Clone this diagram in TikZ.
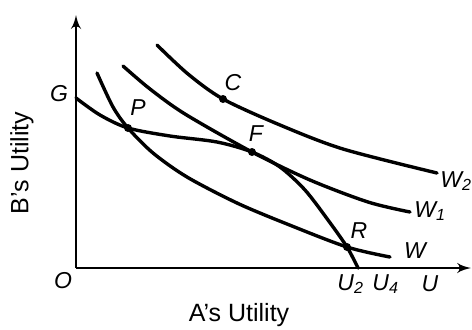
\documentclass[tikz,border=0pt]{standalone}
\usepackage{fontspec}
\setmainfont{Liberation Sans}
\usetikzlibrary{arrows, positioning}

\begin{document}
\begin{tikzpicture}[x=0.5pt, y=-0.5pt,
    axis/.style={draw, -latex', line width=1.4pt},
    curve/.style={draw, line width=1.7pt, line cap=round},
    dot/.style={circle, fill=black, inner sep=0pt, minimum size=4pt},
    lbl/.style={font=\fontsize{11.5}{13}\selectfont\itshape, inner sep=0pt},
    title/.style={font=\fontsize{12.5}{14}\selectfont, inner sep=0pt}]

    \useasboundingbox (0,0) rectangle (472,329);

    \coordinate (O) at (76,268);
    \coordinate (ytop) at (76,15);
    \coordinate (xend) at (471,268);
    \coordinate (G) at (76,98);
    \coordinate (U2) at (358,268);

    \node [dot] (P) at (128,128) {};
    \node [dot] (F) at (252,152) {};
    \node [dot] (C) at (223,99) {};
    \node [dot] (R) at (347,247) {};

    \path [axis] (O) -- (ytop);
    \path [axis] (O) -- (xend);

    \path [curve] plot [smooth] coordinates {(157,45) (188,74) (C) (280,125) (343,149) (437,173)};
    \path [curve] plot [smooth] coordinates {(123,66) (150,89) (185,114) (F) (310,180) (368,202) (410,212)};
    \path [curve] plot [smooth] coordinates {(97,73) (113,107) (P) (153,153) (187,177) (237,203) (287,224) (R) (390,257)};
    \path [curve] plot [smooth] coordinates {(G) (100,115) (P) (170,136) (217,142) (F) (280,167) (305,190) (328,220) (R) (U2)};

    \node [lbl] (lbl_G) at (59,94) {G};
    \node [lbl] (lbl_O) at (63,281) {O};
    \node [lbl] (lbl_P) at (138,108) {P};
    \node [lbl] (lbl_C) at (233,83) {C};
    \node [lbl] (lbl_F) at (256,134) {F};
    \node [lbl] (lbl_R) at (359,231) {R};
    \node [lbl] (lbl_W) at (415,251) {W};
    \node [lbl, anchor=west] (lbl_W1) at (414,211) {W\textsubscript{1}};
    \node [lbl, anchor=west] (lbl_W2) at (440,181) {W\textsubscript{2}};
    \node [lbl, anchor=west] (lbl_U2) at (337,284) {U\textsubscript{2}};
    \node [lbl, anchor=west] (lbl_U4) at (372,284) {U\textsubscript{4}};
    \node [lbl] (lbl_U) at (430,284) {U};

    \node [title] (xtitle) at (239,315) {A's Utility};
    \node [title, rotate=90] (ytitle) at (22,163) {B's Utility};
\end{tikzpicture}
\end{document}
